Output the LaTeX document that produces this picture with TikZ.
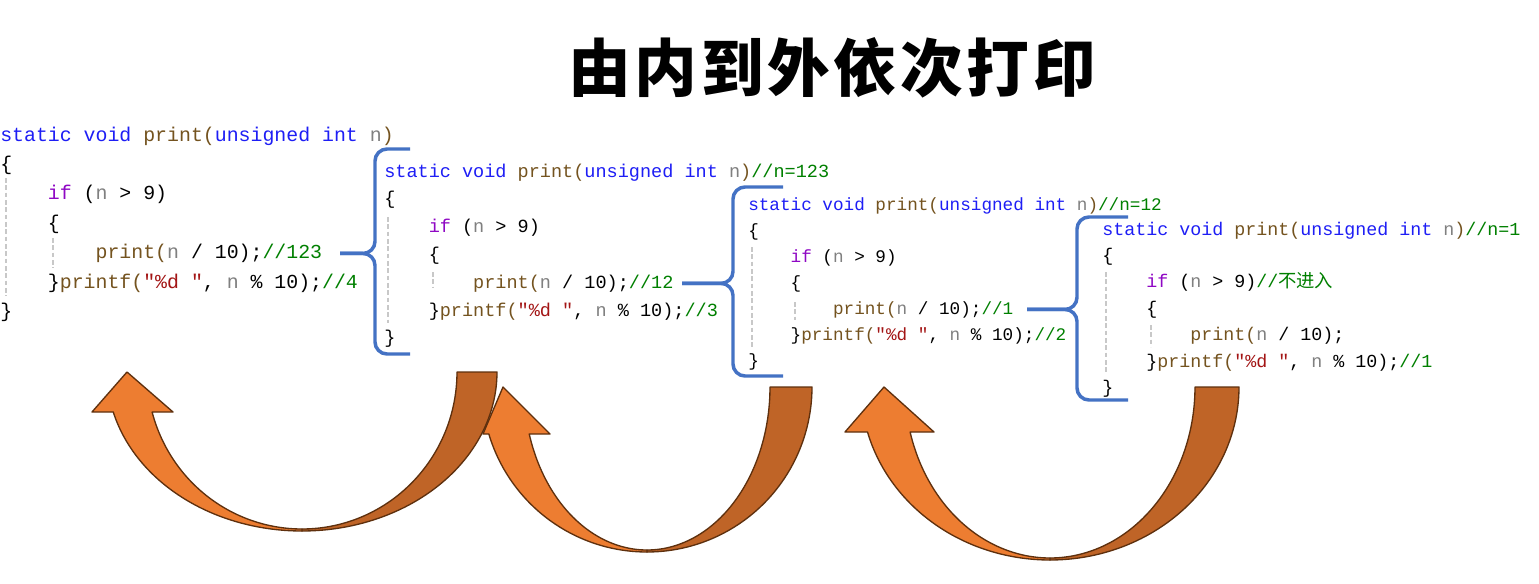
\documentclass[tikz,border=0pt]{standalone}
\usepackage{fontspec}
\newfontfamily\codefont{Liberation Mono}
\newfontfamily\cjk{Noto Sans CJK SC}
\newfontfamily\titlefont[LetterSpace=6]{Noto Sans CJK SC}
\definecolor{kwc}{RGB}{30,30,245}
\definecolor{fnc}{RGB}{116,83,31}
\definecolor{pac}{RGB}{128,128,128}
\definecolor{ctc}{RGB}{143,8,196}
\definecolor{cmc}{RGB}{0,128,0}
\definecolor{stc}{RGB}{163,21,21}
\definecolor{bracec}{RGB}{68,114,196}
\definecolor{arrlight}{RGB}{237,125,49}
\definecolor{arrdark}{RGB}{191,100,39}
\definecolor{arrline}{RGB}{94,48,14}
\definecolor{guidec}{RGB}{200,200,200}
\newcommand\cKw[1]{\textcolor{kwc}{#1}}
\newcommand\cFn[1]{\textcolor{fnc}{#1}}
\newcommand\cPa[1]{\textcolor{pac}{#1}}
\newcommand\cCt[1]{\textcolor{ctc}{#1}}
\newcommand\cCm[1]{\textcolor{cmc}{#1}}
\newcommand\cSt[1]{\textcolor{stc}{#1}}
\newcommand\hdr{\cKw{static void} \cFn{print(}\cKw{unsigned int} \cPa{n}\cFn{)}}
\newcommand\fA{\codefont\fontsize{14.9pt}{18pt}\selectfont}
\newcommand\fB{\codefont\fontsize{13.9pt}{17pt}\selectfont}
\newcommand\fC{\codefont\fontsize{13.25pt}{16pt}\selectfont}
\newcommand\fD{\codefont\fontsize{13.75pt}{16pt}\selectfont}
\newcommand\carrow[9]{%
  \pgfmathsetmacro\aout{acos((#6-#2)/#4)}%
  \pgfmathsetmacro\ain{acos((#6-#2)/(#4-2))}%
  \filldraw[darkarr] ({#1+#3},#2) -- plot[domain=90:0,samples=60] ({#1+#3*sin(\x)},{#2+#4*cos(\x)})
     -- plot[domain=0:90,samples=60] ({#1+#5*sin(\x)},{#2+(#4-2)*cos(\x)}) -- cycle;
  \filldraw[lightarr] (#7,#6) -- (#8,#2) -- (#9,#6)
     -- plot[domain=\ain:0,samples=60] ({#1-#5*sin(\x)},{#2+(#4-2)*cos(\x)})
     -- plot[domain=0:\aout,samples=60] ({#1-#3*sin(\x)},{#2+#4*cos(\x)}) -- cycle;
}
\begin{document}
\begin{tikzpicture}[x=0.75pt,y=-0.75pt,
  cA/.style={anchor=base west,inner sep=0pt,font=\fA},
  cB/.style={anchor=base west,inner sep=0pt,font=\fB},
  cC/.style={anchor=base west,inner sep=0pt,font=\fC},
  cD/.style={anchor=base west,inner sep=0pt,font=\fD},
  guide/.style={draw=guidec,line width=0.8pt,dash pattern=on 3.5pt off 2pt},
  brace/.style={draw=bracec,line width=2.6pt,rounded corners=9pt},
  darkarr/.style={fill=arrdark,draw=arrline,line width=1pt,line join=round},
  lightarr/.style={fill=arrlight,draw=arrline,line width=1pt,line join=round}]
\useasboundingbox (0,0) rectangle (1539,583);
\fill[white] (0,0) rectangle (1539,583);

% title
\node[anchor=west,inner sep=0pt,font=\titlefont\bfseries\fontsize{47pt}{50pt}\selectfont] (title) at (568,68) {由内到外依次打印};

% arrows
\carrow{302}{372}{195}{159}{155}{412}{92}{127}{173}
\carrow{647}{387}{165}{165}{123}{434}{483}{503}{550}
\carrow{1050}{387}{189}{173}{145}{432}{845}{884}{934}

% guides
\draw[guide] (6,178) -- (6,296);
\draw[guide] (53,238) -- (53,268);
\draw[guide] (388,217) -- (388,323);
\draw[guide] (433,272) -- (433,288);
\draw[guide] (752,247) -- (752,347);
\draw[guide] (795,302) -- (795,320);
\draw[guide] (1106,272) -- (1106,373);
\draw[guide] (1151,325) -- (1151,347);

% block 1
\node[cA] (b1l1) at (0,141) {\hdr};
\node[cA] (b1l2) at (0,170.4) {\{};
\node[cA] (b1l3) at (0,199.8) {\phantom{xxxx}\cCt{if} (\cPa{n} > 9)};
\node[cA] (b1l4) at (0,229.2) {\phantom{xxxx}\{};
\node[cA] (b1l5) at (0,258.6) {\phantom{xxxxxxxx}\cFn{print(}\cPa{n} / 10);\cCm{//123}};
\node[cA] (b1l6) at (0,288) {\phantom{xxxx}\}\cFn{printf(}\cSt{"\%d "}, \cPa{n} \% 10);\cCm{//4}};
\node[cA] (b1l7) at (0,317.4) {\}};

% block 2
\node[cB] (b2l1) at (384,177) {\hdr\cCm{//n=123}};
\node[cB] (b2l2) at (384,204.8) {\{};
\node[cB] (b2l3) at (384,232.6) {\phantom{xxxx}\cCt{if} (\cPa{n} > 9)};
\node[cB] (b2l4) at (384,260.4) {\phantom{xxxx}\{};
\node[cB] (b2l5) at (384,288.2) {\phantom{xxxxxxxx}\cFn{print(}\cPa{n} / 10);\cCm{//12}};
\node[cB] (b2l6) at (384,316) {\phantom{xxxx}\}\cFn{printf(}\cSt{"\%d "}, \cPa{n} \% 10);\cCm{//3}};
\node[cB] (b2l7) at (384,343.8) {\}};

% block 3
\node[cC] (b3l1) at (748,210) {\hdr\cCm{//n=12}};
\node[cC] (b3l2) at (748,236) {\{};
\node[cC] (b3l3) at (748,262) {\phantom{xxxx}\cCt{if} (\cPa{n} > 9)};
\node[cC] (b3l4) at (748,288) {\phantom{xxxx}\{};
\node[cC] (b3l5) at (748,314) {\phantom{xxxxxxxx}\cFn{print(}\cPa{n} / 10);\cCm{//1}};
\node[cC] (b3l6) at (748,340) {\phantom{xxxx}\}\cFn{printf(}\cSt{"\%d "}, \cPa{n} \% 10);\cCm{//2}};
\node[cC] (b3l7) at (748,366) {\}};

% block 4
\node[cD] (b4l1) at (1102,235) {\hdr\cCm{//n=1}};
\node[cD] (b4l2) at (1102,261.4) {\{};
\node[cD] (b4l3) at (1102,287.8) {\phantom{xxxx}\cCt{if} (\cPa{n} > 9)\cCm{//{\cjk 不进入}}};
\node[cD] (b4l4) at (1102,314.2) {\phantom{xxxx}\{};
\node[cD] (b4l5) at (1102,340.6) {\phantom{xxxxxxxx}\cFn{print(}\cPa{n} / 10);};
\node[cD] (b4l6) at (1102,367) {\phantom{xxxx}\}\cFn{printf(}\cSt{"\%d "}, \cPa{n} \% 10);\cCm{//1}};
\node[cD] (b4l7) at (1102,393.4) {\}};

% braces
\coordinate (v1) at (375,0); \coordinate (s1) at (340,0);
\coordinate (v2) at (733,0); \coordinate (s2) at (682,0);
\coordinate (v3) at (1077,0); \coordinate (s3) at (1027,0);
\draw[brace] (b1l5.east -| s1) -- (b1l5.east -| v1) -- (375,149) -- (410,149);
\draw[brace] (b1l5.east -| s1) -- (b1l5.east -| v1) -- (375,354) -- (410,354);
\draw[brace] (b2l5.east -| s2) -- (b2l5.east -| v2) -- (733,187) -- (783,187);
\draw[brace] (b2l5.east -| s2) -- (b2l5.east -| v2) -- (733,376) -- (783,376);
\draw[brace] (b3l5.east -| s3) -- (b3l5.east -| v3) -- (1077,217) -- (1128,217);
\draw[brace] (b3l5.east -| s3) -- (b3l5.east -| v3) -- (1077,400) -- (1128,400);
\end{tikzpicture}
\end{document}
